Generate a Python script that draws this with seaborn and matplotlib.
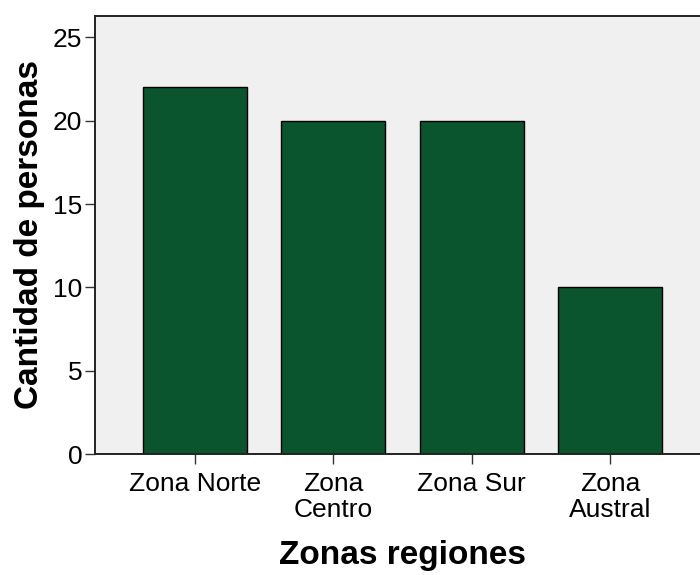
import pandas as pd
import seaborn as sns
import matplotlib.pyplot as plt

# Datos del gráfico
zonas = ["Zona Norte", "Zona\nCentro", "Zona Sur", "Zona\nAustral"]
personas = [22, 20, 20, 10]

df = pd.DataFrame({"zona": zonas, "personas": personas})

sns.set_style("white")
plt.rcParams['font.family'] = ['Liberation Sans', 'DejaVu Sans']
plt.rcParams['text.color'] = 'black'
plt.rcParams['axes.labelcolor'] = 'black'
plt.rcParams['xtick.color'] = 'black'
plt.rcParams['ytick.color'] = 'black'

fig = plt.figure(figsize=(7, 5.75), dpi=100)
ax = fig.add_axes([0.1357, 0.2104, 0.8786, 0.7623])
ax.set_facecolor("#F0F0F0")

sns.barplot(data=df, x="zona", y="personas", color="#0B552E", saturation=1,
            width=0.75, edgecolor="black", linewidth=1.0, ax=ax)

ax.set_xlim(-0.72, 3.72)
ax.set_ylim(0, 26.3)
ax.set_yticks([0, 5, 10, 15, 20, 25])

ax.set_xlabel("Zonas regiones", fontsize=24, fontweight="bold", labelpad=13)
ax.set_ylabel("Cantidad de personas", fontsize=24, fontweight="bold", labelpad=6)

ax.tick_params(axis="both", labelsize=19, length=7, width=1,
               direction="out", pad=2, left=True, bottom=True)
ax.tick_params(axis="x", pad=6)
ax.tick_params(axis="both", color="#333333")
for lbl in ax.get_xticklabels():
    lbl.set_linespacing(1.1)

for side in ["left", "bottom", "top"]:
    ax.spines[side].set_color("#222222")
    ax.spines[side].set_linewidth(1.4)
ax.spines["right"].set_visible(False)

fig.savefig("out.png", dpi=100)
